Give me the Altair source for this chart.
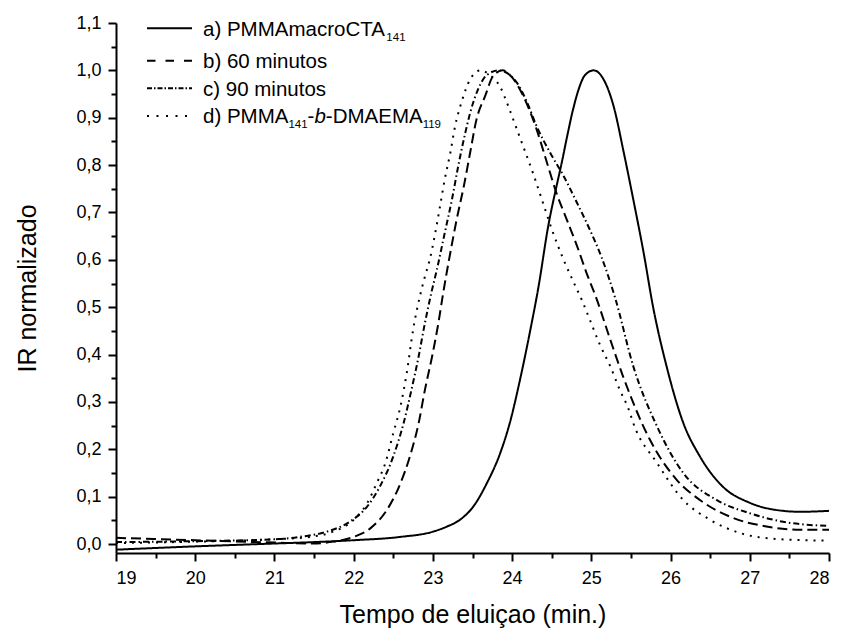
import altair as alt
import pandas as pd

FONT = "Liberation Sans"

# ---------------- data ----------------
series_names = ["a", "b", "c", "d"]

t_a = [19.0, 20.0, 21.0, 21.5, 22.0, 22.59, 23.0, 23.18, 23.34, 23.51, 23.68, 23.85, 23.97,
       24.10, 24.23, 24.33, 24.46, 24.56, 24.62, 24.70, 24.77, 24.84, 24.92, 25.03, 25.14, 25.28,
       25.41, 25.53, 25.66, 25.78, 25.95, 26.16, 26.37, 26.66, 27.0, 27.42, 27.64, 28.0]
v_a = [-0.012, -0.005, 0.001, 0.004, 0.008, 0.015, 0.026, 0.037, 0.051, 0.079, 0.128, 0.192, 0.255,
       0.347, 0.452, 0.540, 0.675, 0.755, 0.800, 0.865, 0.918, 0.960, 0.990, 1.000, 0.985, 0.925,
       0.826, 0.727, 0.615, 0.500, 0.375, 0.256, 0.185, 0.121, 0.087, 0.070, 0.068, 0.070]

t_b = [19.0, 20.0, 21.0, 21.49, 21.74, 22.0, 22.21, 22.42, 22.59, 22.71, 22.82, 22.90, 22.99,
       23.07, 23.13, 23.22, 23.30, 23.39, 23.47, 23.55, 23.66, 23.76, 23.88, 24.0, 24.14, 24.31,
       24.44, 24.56, 24.69, 24.82, 24.94, 25.05, 25.24, 25.40, 25.74, 26.08, 26.37, 26.79, 27.21,
       27.64, 28.0]
v_b = [0.013, 0.008, 0.003, 0.001, 0.005, 0.015, 0.033, 0.072, 0.128, 0.185, 0.255, 0.326, 0.396,
       0.467, 0.530, 0.615, 0.685, 0.755, 0.826, 0.896, 0.946, 0.988, 1.000, 0.985, 0.946, 0.875,
       0.805, 0.741, 0.685, 0.629, 0.572, 0.525, 0.431, 0.354, 0.220, 0.135, 0.093, 0.055, 0.037,
       0.030, 0.030]

t_c = [19.0, 20.0, 21.0, 21.32, 21.66, 21.95, 22.17, 22.33, 22.50, 22.63, 22.73, 22.82, 22.90,
       22.98, 23.05, 23.15, 23.24, 23.32, 23.39, 23.47, 23.57, 23.68, 23.83, 24.06, 24.19, 24.31,
       24.48, 24.65, 24.82, 24.98, 25.13, 25.30, 25.53, 25.83, 26.16, 26.58, 27.0, 27.42, 28.0]
v_c = [0.004, 0.006, 0.010, 0.015, 0.026, 0.047, 0.079, 0.121, 0.185, 0.255, 0.326, 0.396, 0.467,
       0.530, 0.579, 0.657, 0.727, 0.798, 0.854, 0.910, 0.960, 0.990, 1.000, 0.974, 0.932, 0.882,
       0.826, 0.777, 0.720, 0.664, 0.605, 0.520, 0.375, 0.248, 0.150, 0.093, 0.065, 0.047, 0.038]

t_d = [19.0, 20.0, 21.0, 21.45, 21.74, 22.0, 22.17, 22.29, 22.40, 22.50, 22.59, 22.67, 22.75,
       22.84, 22.90, 22.96, 23.03, 23.09, 23.15, 23.22, 23.28, 23.36, 23.47, 23.60, 23.72, 23.85,
       23.95, 24.05, 24.15, 24.27, 24.38, 24.50, 24.65, 24.77, 24.88, 24.98, 25.11, 25.24, 25.36,
       25.47, 25.53, 25.83, 26.16, 26.50, 26.88, 27.30, 28.0]
v_d = [0.002, 0.005, 0.010, 0.015, 0.026, 0.051, 0.086, 0.128, 0.171, 0.234, 0.290, 0.361, 0.452,
       0.526, 0.565, 0.600, 0.657, 0.713, 0.770, 0.826, 0.882, 0.932, 0.981, 1.000, 0.990, 0.965,
       0.925, 0.880, 0.835, 0.780, 0.725, 0.665, 0.600, 0.555, 0.515, 0.474, 0.420, 0.375, 0.325,
       0.285, 0.255, 0.171, 0.093, 0.051, 0.023, 0.011, 0.007]

x_major = [19, 20, 21, 22, 23, 24, 25, 26, 27, 28]
x_minor = [19.5, 20.5, 21.5, 22.5, 23.5, 24.5, 25.5, 26.5, 27.5]
y_major = [0.0, 0.1, 0.2, 0.3, 0.4, 0.5, 0.6, 0.7, 0.8, 0.9, 1.0, 1.1]
y_minor = [0.05, 0.15, 0.25, 0.35, 0.45, 0.55, 0.65, 0.75, 0.85, 0.95, 1.05]

rows = []
for name, ts, vs in zip(series_names, [t_a, t_b, t_c, t_d], [v_a, v_b, v_c, v_d]):
    for t, v in zip(ts, vs):
        rows.append({"series": name, "t": t, "v": v})
df = pd.DataFrame(rows)

# ---------------- styling ----------------
dash_curves = [[1, 0], [10, 5], [6, 3, 1.5, 3], [2, 6]]
dash_legend = [[1, 0], [8.5, 10], [5, 2, 1.5, 2], [2, 7.5]]

PAD_L, PAD_T = 116, 23
W, H = 713, 530
xs = alt.Scale(domain=[19, 28], nice=False, zero=False)
ys = alt.Scale(domain=[-0.019, 1.1], nice=False, zero=False)

common = dict(domainColor="black", domainWidth=2, tickColor="black", tickWidth=2,
              labelColor="black", labelFont=FONT, labelFontSize=18,
              titleFont=FONT, titleFontSize=25, titleFontWeight="normal",
              titleColor="black", grid=False)

lines = alt.Chart(df).mark_line(color="black", strokeWidth=2, interpolate="monotone").encode(
    x=alt.X("t:Q", scale=xs, axis=alt.Axis(values=x_major, tickSize=8, labelPadding=8,
            format="d", title="Tempo de eluiçao (min.)", titlePadding=15, orient="bottom", **common)),
    y=alt.Y("v:Q", scale=ys, axis=alt.Axis(values=y_major, tickSize=8, labelPadding=7,
            labelExpr="replace(format(datum.value, '.1f'), '.', ',')",
            title="IR normalizado", titlePadding=35, orient="left", **common)),
    strokeDash=alt.StrokeDash("series:N", scale=alt.Scale(domain=series_names, range=dash_curves),
                              legend=None),
    detail="series:N",
)

minor_common = dict(tickColor="black", tickWidth=2, tickSize=5, labels=False, domain=False,
                    grid=False, title=None)
minor = alt.Chart(df).mark_point(opacity=0).encode(
    x=alt.X("t:Q", scale=xs, axis=alt.Axis(values=x_minor, orient="bottom", **minor_common)),
    y=alt.Y("v:Q", scale=ys, axis=alt.Axis(values=y_minor, orient="left", **minor_common)),
)

# ---------------- hand-made legend (positions relative to the plot area) ----------------
AW = {"a": 556, ")": 333, " ": 278, "P": 667, "M": 833, "m": 833, "c": 500, "r": 333,
      "o": 556, "C": 722, "T": 611, "A": 667, "b": 556, "6": 556, "0": 556, "9": 556,
      "1": 556, "4": 556, "i": 222, "n": 556, "u": 556, "t": 278, "s": 500, "d": 556,
      "-": 333, "D": 722, "E": 667}


def tw(s, size):
    return sum(AW[c] for c in s) * size / 1000.0


LFS, SFS = 20.5, 11.5
leg_x0, leg_x1, txt_x = 147 - PAD_L, 192 - PAD_L, 203 - PAD_L
leg_line_y = [y - PAD_T for y in [28.3, 60.7, 88.3, 116.0]]
leg_base_y = [y - PAD_T for y in [35.5, 68.0, 95.5, 123.0]]
leg_parts = [
    [("a) PMMAmacroCTA", "main"), ("141", "sub")],
    [("b) 60 minutos", "main")],
    [("c) 90 minutos", "main")],
    [("d) PMMA", "main"), ("141", "sub"), ("-", "main"), ("b", "ital"),
     ("-DMAEMA", "main"), ("119", "sub")],
]

legend_layers = []
for i in range(4):
    legend_layers.append(
        alt.Chart(pd.DataFrame({"k": [series_names[i]]})).mark_rule(
            color="black", strokeWidth=2, strokeDash=dash_legend[i]).encode(
            x=alt.value(leg_x0), x2=alt.value(leg_x1), y=alt.value(leg_line_y[i]))
    )
    x = txt_x
    for text, kind in leg_parts[i]:
        size = SFS if kind == "sub" else LFS
        yb = leg_base_y[i] + (5 if kind == "sub" else 0)
        mk = dict(align="left", baseline="alphabetic", font=FONT, fontSize=size, color="black")
        if kind == "ital":
            mk["fontStyle"] = "italic"
        legend_layers.append(
            alt.Chart(pd.DataFrame({"s": [text]})).mark_text(**mk).encode(
                x=alt.value(x), y=alt.value(yb), text="s:N")
        )
        x += tw(text, size)

chart = alt.layer(lines, minor, *legend_layers).resolve_axis(
    x="independent", y="independent"
).properties(
    width=W, height=H,
    padding={"left": PAD_L, "top": PAD_T, "right": 12, "bottom": 78},
    autosize=alt.AutoSizeParams(type="none"),
).configure_view(stroke=None)

chart.save("out.html", embed_options={"renderer": "svg", "actions": False})
